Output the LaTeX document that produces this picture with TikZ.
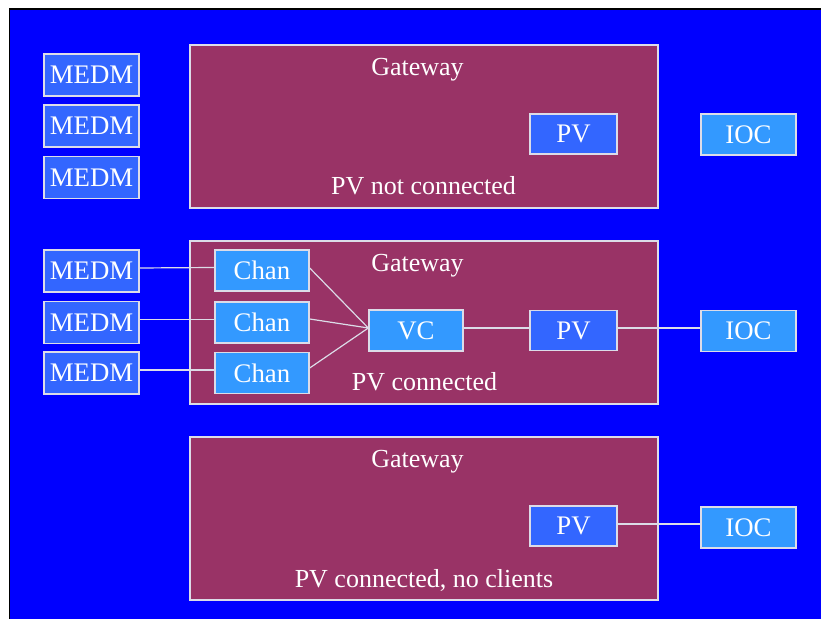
\documentclass[tikz,border=0pt]{standalone}
\usepackage{fontspec}
\setmainfont{Liberation Serif}
\definecolor{bgblue}{HTML}{0000FF}
\definecolor{gwfill}{HTML}{993366}
\definecolor{darkbox}{HTML}{3366FF}
\definecolor{lightbox}{HTML}{3399FF}
\definecolor{edge}{HTML}{DCDCE8}
\tikzset{
  gwbox/.style={draw=edge, line width=0.7pt, fill=gwfill, minimum width=234pt, minimum height=81.5pt, inner sep=0pt},
  medmbox/.style={draw=edge, line width=0.7pt, fill=darkbox, text=white, minimum width=47.5pt, minimum height=21pt, inner sep=0pt, font=\fontsize{13.4}{15}\selectfont},
  pvbox/.style={medmbox, minimum width=43.5pt, minimum height=20pt},
  chanbox/.style={medmbox, fill=lightbox, minimum width=47pt, minimum height=20.5pt},
  iocbox/.style={chanbox, minimum width=47.5pt},
  gwtext/.style={text=white, inner sep=0pt, anchor=base, font=\fontsize{13}{15}\selectfont},
  wire/.style={draw=edge, line width=0.6pt}
}
\begin{document}
\begin{tikzpicture}[x=0.5pt,y=-0.5pt]
\useasboundingbox (0,0) rectangle (821,619);
\fill[black] (8.5,8.5) rectangle (823,621);
\fill[bgblue] (10,10) rectangle (823,621);

% Gateways
\node[gwbox] (gw1) at (424,126.5) {};
\node[gwbox] (gw2) at (424,322.5) {};
\node[gwbox] (gw3) at (424,518.5) {};
\node[gwtext] (gw1t) at (417.5,75.5) {Gateway};
\node[gwtext] (gw2t) at (417.5,271.5) {Gateway};
\node[gwtext] (gw3t) at (417.5,467.5) {Gateway};
\node[gwtext] (gw1b) at (423.5,195) {PV not connected};
\node[gwtext] (gw2b) at (424.5,391) {PV connected};
\node[gwtext] (gw3b) at (424,588) {PV connected, no clients};

% Row 1
\node[medmbox] (m1) at (91.5,75) {MEDM};
\node[medmbox] (m2) at (91.5,126) {MEDM};
\node[medmbox] (m3) at (91.5,177.5) {MEDM};
\node[pvbox] (pv1) at (573.5,134) {PV};
\node[iocbox] (ioc1) at (748.5,134.5) {IOC};

% Row 2
\node[medmbox] (m4) at (91.5,271) {MEDM};
\node[medmbox] (m5) at (91.5,322.5) {MEDM};
\node[medmbox] (m6) at (91.5,373) {MEDM};
\node[chanbox] (c1) at (262,270.5) {Chan};
\node[chanbox] (c2) at (262,322.5) {Chan};
\node[chanbox] (c3) at (262,373) {Chan};
\node[chanbox] (vc) at (416,330.5) {VC};
\node[pvbox] (pv2) at (573.5,330.5) {PV};
\node[iocbox] (ioc2) at (748.5,331) {IOC};

% Row 3
\node[pvbox] (pv3) at (573.5,526) {PV};
\node[iocbox] (ioc3) at (748.5,527.5) {IOC};

% Wires
\draw[wire] ([yshift=1.5pt]m4.east) -- ([yshift=1.5pt]c1.west);
\draw[wire] ([yshift=1.5pt]m5.east) -- ([yshift=1.5pt]c2.west);
\draw[wire] ([yshift=1.5pt]m6.east) -- ([yshift=1.5pt]c3.west);
\draw[wire] ([yshift=1.25pt]c1.east) -- ([yshift=1.25pt]vc.west);
\draw[wire] ([yshift=1.75pt]c2.east) -- ([yshift=1.25pt]vc.west);
\draw[wire] ([yshift=2.5pt]c3.east) -- ([yshift=1.25pt]vc.west);
\draw[wire] ([yshift=1.25pt]vc.east) -- ([yshift=1.25pt]pv2.west);
\draw[wire] ([yshift=1.25pt]pv2.east) -- ([yshift=1.5pt]ioc2.west);
\draw[wire] ([yshift=1pt]pv3.east) -- ([yshift=1.75pt]ioc3.west);
\end{tikzpicture}
\end{document}
